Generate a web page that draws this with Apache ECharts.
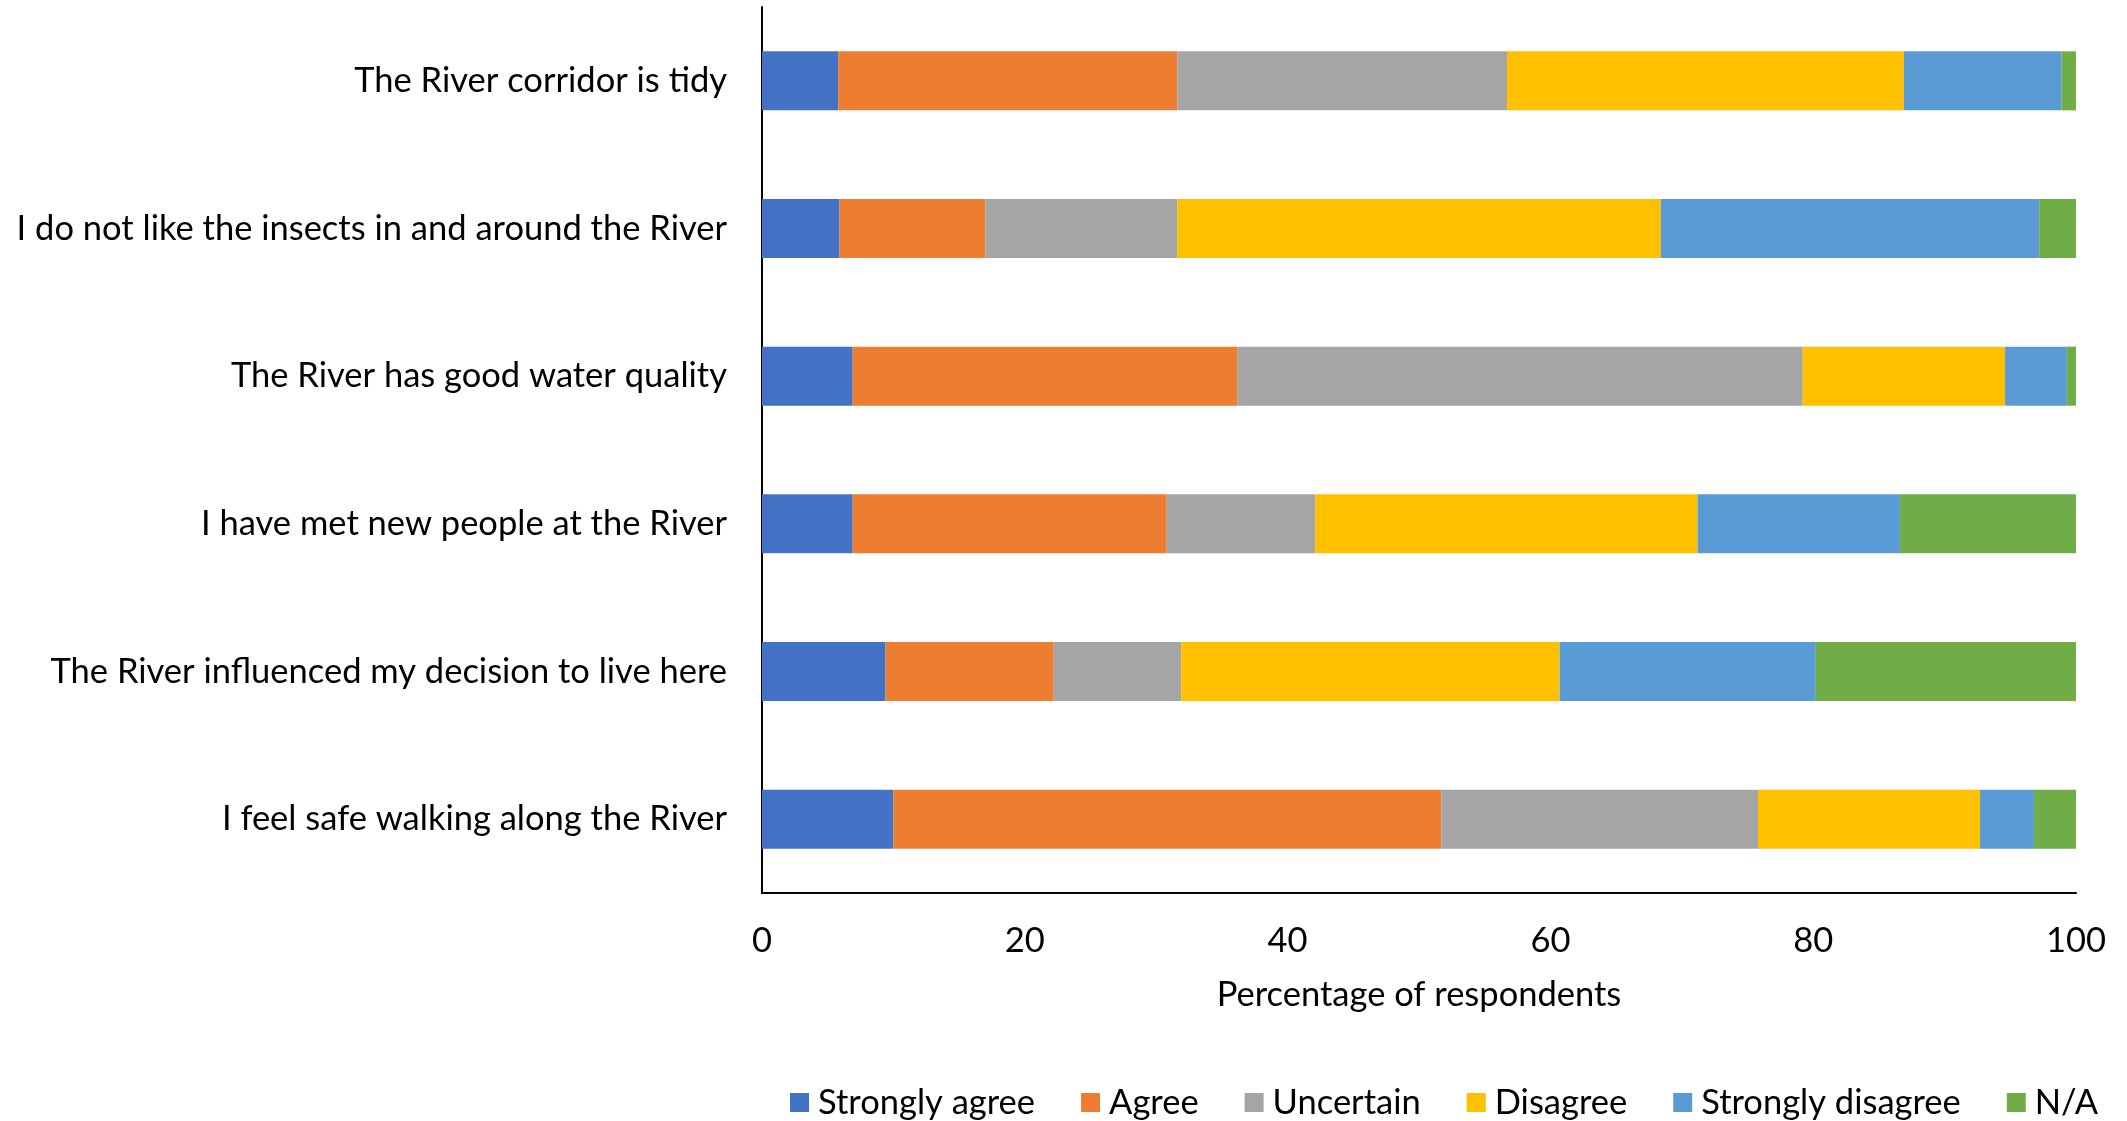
<!DOCTYPE html>
<html>
<head>
<meta charset="utf-8">
<script src="https://cdn.jsdelivr.net/npm/echarts@6/dist/echarts.min.js"></script>
<style>
html,body{margin:0;padding:0;background:#fff;}
#chart{width:2127px;height:1121px;}
</style>
</head>
<body>
<div id="chart"></div>
<script>
const categories = [
  "The River corridor is tidy",
  "I do not like the insects in and around the River",
  "The River has good water quality",
  "I have met new people at the River",
  "The River influenced my decision to live here",
  "I feel safe walking along the River"
];
const seriesNames = ["Strongly agree", "Agree", "Uncertain", "Disagree", "Strongly disagree", "N/A"];
const stronglyAgree    = [5.8, 5.9, 6.9, 6.9, 9.4, 10.0];
const agree            = [25.8, 11.1, 29.3, 23.9, 12.8, 41.7];
const uncertain        = [25.1, 14.6, 43.0, 11.3, 9.7, 24.1];
const disagree         = [30.2, 36.8, 15.4, 29.1, 28.8, 16.9];
const stronglyDisagree = [12.0, 28.8, 4.7, 15.4, 19.5, 4.1];
const na               = [1.1, 2.8, 0.7, 13.4, 19.8, 3.2];
const xTicks = [0, 20, 40, 60, 80, 100];
const colors = ["#4472C4", "#ED7D31", "#A5A5A5", "#FFC000", "#5B9BD5", "#70AD47"];

const values = [stronglyAgree, agree, uncertain, disagree, stronglyDisagree, na];
const FONT = "Lato";
const FS = 34.5;

const chart = echarts.init(document.getElementById('chart'), null, {renderer: 'canvas'});
chart.setOption({
  animation: false,
  textStyle: {fontFamily: FONT, color: '#000'},
  grid: {left: 762, right: 51, top: 7, bottom: 228, containLabel: false},
  legend: {
    data: seriesNames,
    bottom: -4,
    left: 785,
    itemWidth: 19,
    itemHeight: 19,
    itemGap: 46,
    icon: 'rect',
    textStyle: {fontFamily: FONT, fontSize: FS, color: '#000', padding: [0, 0, 0, 4]}
  },
  xAxis: {
    type: 'value',
    min: xTicks[0],
    max: xTicks[xTicks.length - 1],
    interval: xTicks[1] - xTicks[0],
    name: 'Percentage of respondents',
    nameLocation: 'middle',
    nameGap: 84,
    nameTextStyle: {fontFamily: FONT, fontSize: FS, color: '#000'},
    axisLine: {show: true, lineStyle: {color: '#000', width: 2}},
    axisTick: {show: false},
    splitLine: {show: false},
    axisLabel: {fontFamily: FONT, fontSize: FS, color: '#000', margin: 30}
  },
  yAxis: {
    type: 'category',
    data: categories,
    inverse: true,
    axisLine: {show: true, lineStyle: {color: '#000', width: 2}},
    axisTick: {show: false},
    axisLabel: {fontFamily: FONT, fontSize: FS, color: '#000', margin: 35}
  },
  series: seriesNames.map((n, i) => ({
    name: n,
    type: 'bar',
    stack: 'total',
    barCategoryGap: '60%',
    itemStyle: {color: colors[i]},
    data: values[i]
  }))
});
</script>
</body>
</html>
